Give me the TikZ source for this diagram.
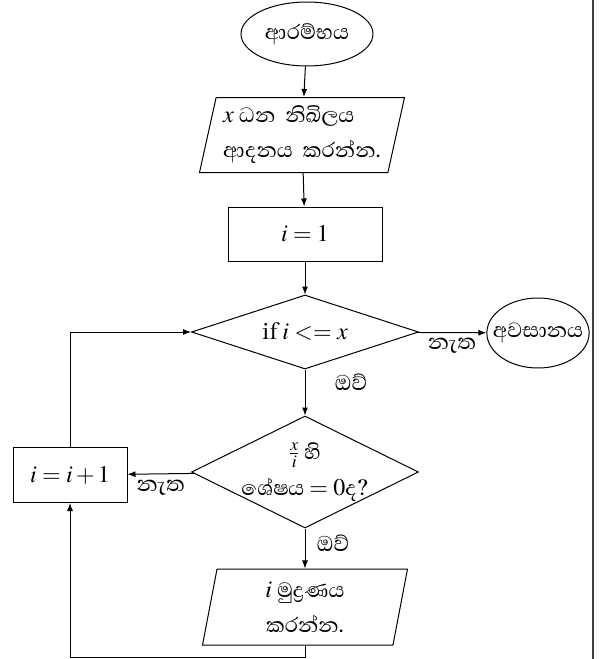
\documentclass[tikz,border=0pt]{standalone}
\usepackage{mathptmx}
\usepackage{fontspec}
\setmainfont{Liberation Serif}
\newfontfamily\sinhalafont[Script=Sinhala,Scale=1.1]{Abhaya Libre}
\usetikzlibrary{shapes.geometric,arrows.meta}

\begin{document}
\begin{tikzpicture}[x=1pt,y=-1pt,line width=1pt,
  flecha/.style={-{Latex[length=8pt,width=6pt]}},
  letra/.style={font=\sinhalafont\fontsize{24}{35}\selectfont},
  etiqueta/.style={font=\sinhalafont\fontsize{25}{35}\selectfont},
  elipse/.style={draw,ellipse,inner sep=0pt,letra},
  caja/.style={draw,rectangle,inner sep=0pt,letra},
  datos/.style={draw,trapezium,trapezium left angle=74,trapezium right angle=106,
    trapezium stretches body=true,inner sep=0pt,letra},
  rombo/.style={draw,diamond,inner sep=0pt,letra,align=center}]
\useasboundingbox (0,0) rectangle (600,659);
% Inicio y datos
\node[elipse,minimum width=132pt,minimum height=64pt] (inicio) at (307,34) {ආරම්භය};
\node[datos,align=left,minimum width=205pt,minimum height=75pt] (entrada) at (302,135)
  {$x$ ධන\ \ නිඛිලය\\ආදනය\ \ කරන්න.};
\node[caja,minimum width=154pt,minimum height=54pt] (init) at (305,234) {$i=1$};
% Condiciones
\node[rombo,aspect=3,minimum width=227pt,minimum height=74pt] (cond1) at (305,332)
  {if $i<=x$};
\node[elipse,inner xsep=-9pt,minimum width=100pt,minimum height=70pt] (fin) at (538,333)
  {අවසානය};
\node[rombo,aspect=2,inner sep=-8pt,minimum width=227pt,minimum height=112pt] (cond2)
  at (305,472) {$\frac{x}{i}$ හි\\[1pt]ශේෂය $=0$ද?};
\node[caja,minimum width=114pt,minimum height=55pt] (incr) at (70,475) {$i=i+1$};
\node[datos,align=center,minimum width=205pt,minimum height=76pt] (imprimir) at (305,607)
  {$i$ මුද්^^^^200dරණය\\කරන්න.};
\coordinate (abajo) at (305,657);
% Flechas
\draw[flecha] (inicio) -- (entrada);
\draw[flecha] (entrada) -- (init);
\draw[flecha] (init) -- (cond1);
\draw[flecha] (cond1) -- node[below,etiqueta,yshift=-2pt] {නැත} (fin);
\draw[flecha] (cond1) -- node[right,etiqueta,xshift=26pt,yshift=10pt] {ඔව්} (cond2);
\draw[flecha] (cond2) -- node[below,etiqueta,yshift=-2pt] {නැත} (incr);
\draw[flecha] (cond2) -- node[right,etiqueta,xshift=8pt,yshift=5pt] {ඔව්} (imprimir);
\draw[flecha] (incr) |- (cond1);
\draw[flecha] (imprimir) -- (abajo) -| (incr);
% Borde
\draw[line width=1.5pt,gray!50!black] (593,0) -- (593,659);
\end{tikzpicture}
\end{document}
